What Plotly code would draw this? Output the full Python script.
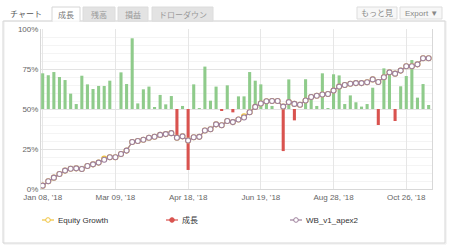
import plotly.graph_objects as go

# ---------------- data ----------------
dates = ["Jan 08, '18", "Mar 09, '18", "Apr 18, '18", "Jun 19, '18", "Aug 28, '18", "Oct 26, '18"]
date_idx = [0, 13, 26, 39, 52, 65]

growth_bars = [22.3, 21.1, 23.1, 20.0, 18.1, 9.6, 3.1, 20.8, 15.4, 12.5,
               14.4, 14.4, 17.7, 0.0, 22.9, 15.6, 44.2, 3.5, 12.3, 14.0,
               1.0, 8.8, 2.9, 8.1, -19.4, 1.9, -38.1, 15.4, 0.6, 26.5,
               5.2, 14.0, -1.0, 14.8, -2.1, 7.9, 7.9, 23.1, 17.7, 15.4,
               4.0, 1.9, 0.0, -26.3, 18.5, -7.1, 0.0, 18.6, 9.2, 1.9,
               22.3, 0.4, 21.7, 21.0, 3.1, 8.5, 4.2, 1.5, 3.1, 13.3,
               -10.0, 25.4, 22.1, -7.5, 14.2, 20.6, 30.6, 7.1, 15.6, 2.5]

wb_growth = [2.1, 4.8, 7.1, 9.4, 11.5, 12.7, 12.9, 12.5, 14.4, 15.4,
             16.5, 18.3, 19.8, 19.8, 21.9, 24.0, 29.4, 30.0, 30.8, 32.0,
             32.7, 33.8, 34.3, 34.9, 32.0, 32.9, 30.3, 32.3, 32.6, 36.6,
             37.3, 40.4, 39.8, 42.5, 41.8, 43.4, 44.7, 48.0, 51.3, 53.4,
             54.8, 55.0, 55.0, 51.5, 54.3, 53.2, 52.7, 55.3, 57.5, 58.3,
             59.1, 59.4, 61.5, 64.0, 65.0, 65.8, 66.2, 66.2, 66.7, 68.5,
             66.9, 69.8, 72.9, 72.1, 74.0, 76.7, 76.7, 77.9, 81.7, 81.7]

equity_growth = [2.1, 4.8, 7.1, 9.4, 11.5, 12.7, 12.9, 12.5, 14.4, 15.4,
                 16.5, 19.0, 19.8, 19.8, 21.9, 24.0, 29.4, 30.0, 30.8, 32.0,
                 32.7, 33.8, 34.3, 34.9, 32.0, 32.9, 30.3, 32.3, 32.6, 36.6,
                 37.3, 40.4, 39.8, 42.5, 41.8, 43.4, 45.4, 48.0, 51.3, 53.4,
                 54.8, 55.0, 55.0, 51.5, 54.3, 53.2, 52.7, 55.3, 57.5, 58.3,
                 59.1, 59.4, 61.5, 64.0, 65.0, 65.8, 66.2, 66.2, 66.7, 68.5,
                 66.9, 69.8, 72.9, 72.1, 74.0, 76.7, 76.7, 77.9, 81.7, 81.7]

y_ticks = [0, 25, 50, 75, 100]
y_labels = ["0%", "25%", "50%", "75%", "100%"]

legend_names = ["Equity Growth", "成長", "WB_v1_apex2"]
tabs = ["成長", "残高", "損益", "ドローダウン"]

# ---------------- styling ----------------
GREEN = "#8fcb8b"
RED = "#d9534f"
PURPLE = "#9d7f9b"
YELLOW = "#f0c33c"
FONT = "Liberation Sans, Noto Sans CJK JP, sans-serif"

WIDTH, HEIGHT = 450, 247
ML, MR, MT, MB = 41, 18, 29, 58
PW = WIDTH - ML - MR
PH = HEIGHT - MT - MB


def X(px):
    return (px - ML) / PW


def Y(py):
    return (HEIGHT - MB - py) / PH


def label(text, px, py, size=8, color="#666", anchor="center"):
    return dict(text=text, x=X(px), y=Y(py), xref="paper", yref="paper", showarrow=False,
                xanchor=anchor, yanchor="middle", font=dict(size=size, color=color, family=FONT))


idx = list(range(len(wb_growth)))
bar_colors = [GREEN if v >= 0 else RED for v in growth_bars]

fig = go.Figure()
fig.add_trace(go.Bar(x=idx, y=growth_bars, base=50, width=0.55,
                     marker=dict(color=bar_colors, line=dict(width=0)),
                     name=legend_names[1]))
fig.add_trace(go.Scatter(x=idx, y=equity_growth, mode="lines+markers",
                         line=dict(color=YELLOW, width=1.2),
                         marker=dict(size=5, color="white", line=dict(color=YELLOW, width=1.1)),
                         name=legend_names[0]))
fig.add_trace(go.Scatter(x=idx, y=wb_growth, mode="lines+markers",
                         line=dict(color=PURPLE, width=1.2),
                         marker=dict(size=5, color="white", line=dict(color=PURPLE, width=1.1)),
                         name=legend_names[2]))

shapes = []
annotations = []

# card frame
shapes.append(dict(type="rect", xref="paper", yref="paper", x0=X(4), x1=X(446), y0=Y(21), y1=Y(244),
                   line=dict(color="#ececec", width=1), layer="below"))
shapes.append(dict(type="rect", xref="paper", yref="paper", x0=X(3), x1=X(445), y0=Y(21), y1=Y(243),
                   line=dict(color="#d6d6d6", width=1), layer="below"))

# tabs
annotations.append(label("チャート", 26, 14, color="#555"))
tab_x = [(52, 80), (83, 115), (118, 148), (152, 213)]
for i, (t, (a, b)) in enumerate(zip(tabs, tab_x)):
    active = i == 0
    shapes.append(dict(type="rect", xref="paper", yref="paper", x0=X(a), x1=X(b), y0=Y(21), y1=Y(7),
                       fillcolor="white" if active else "#e3e3e3",
                       line=dict(color="#d6d6d6" if active else "#dcdcdc", width=1), layer="below"))
    annotations.append(label(t, (a + b) / 2, 14.5, color="#777" if active else "#999"))
# cover line under active tab
shapes.append(dict(type="line", xref="paper", yref="paper", x0=X(52.5), x1=X(79.5), y0=Y(21), y1=Y(21),
                   line=dict(color="white", width=1.5), layer="below"))

# buttons
for t, (a, b) in [("もっと見", (357, 397)), ("Export ▼", (400, 442))]:
    shapes.append(dict(type="rect", xref="paper", yref="paper", x0=X(a), x1=X(b), y0=Y(19), y1=Y(7),
                       fillcolor="#f7f7f7", line=dict(color="#dddddd", width=1), layer="below"))
    annotations.append(label(t, (a + b) / 2, 13.5, color="#888"))

# legend (manual)
leg = [(48, YELLOW, "white", legend_names[0]), (172, RED, RED, legend_names[1]), (296, PURPLE, "white", legend_names[2])]
for cx, col, fill, name in leg:
    shapes.append(dict(type="line", xref="paper", yref="paper", x0=X(cx - 6), x1=X(cx + 6), y0=Y(220), y1=Y(220),
                       line=dict(color=col, width=1.2)))
    shapes.append(dict(type="circle", xref="paper", yref="paper", xsizemode="pixel", ysizemode="pixel",
                       xanchor=X(cx), yanchor=Y(220), x0=-2.3, x1=2.3, y0=-2.3, y1=2.3,
                       fillcolor=fill, line=dict(color=col, width=1)))
    annotations.append(label(name, cx + 8, 220, color="#333", anchor="left"))

fig.update_layout(
    width=WIDTH, height=HEIGHT, autosize=False,
    margin=dict(l=ML, r=MR, t=MT, b=MB, pad=0),
    paper_bgcolor="white", plot_bgcolor="white",
    showlegend=False,
    font=dict(family=FONT, size=8, color="#666"),
    shapes=shapes, annotations=annotations,
    xaxis=dict(range=[-0.3, 69.6], tickvals=date_idx, ticktext=dates, showgrid=True,
               gridcolor="#e6e6e6", gridwidth=1, showline=True, linecolor="#d8d8d8", linewidth=1,
               zeroline=False, ticks="", tickfont=dict(size=8, color="#666"), fixedrange=True),
    yaxis=dict(range=[0, 100], tickvals=y_ticks, ticktext=y_labels, showgrid=True,
               gridcolor="#e3e3e3", gridwidth=1, showline=True, linecolor="#d8d8d8", linewidth=1,
               mirror=True, zeroline=False, ticks="", tickfont=dict(size=8, color="#666"),
               minor=dict(dtick=5, showgrid=True, gridcolor="#f4f4f4", gridwidth=1)),
)

fig.write_html("out.html")
